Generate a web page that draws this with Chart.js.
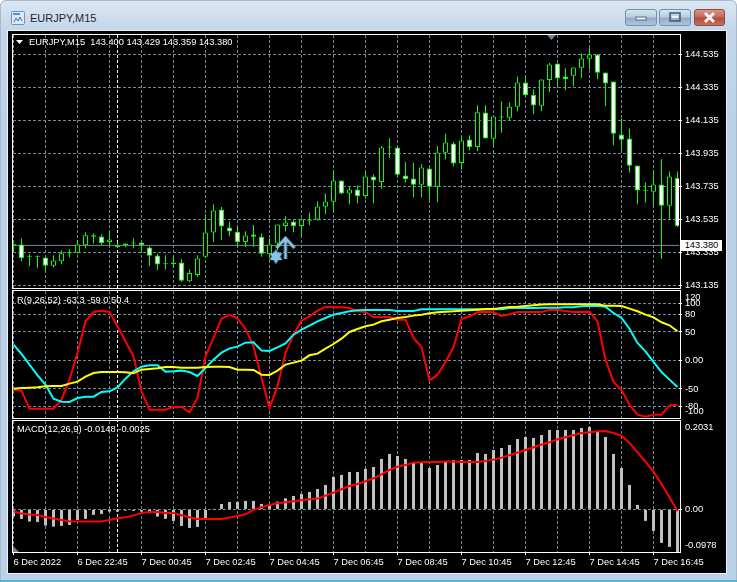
<!DOCTYPE html>
<html>
<head>
<meta charset="utf-8">
<title>EURJPY,M15</title>
<script src="https://cdn.jsdelivr.net/npm/chart.js@4"></script>
<style>
html, body { margin: 0; padding: 0; width: 737px; height: 582px; overflow: hidden; background: #fff; }
#win { position: absolute; left: 0; top: 0; width: 737px; height: 582px; background: linear-gradient(#dce7f3 0, #c4d6e9 30px, #b9d2ea 120px, #b9d2ea 100%); border-radius: 6px 6px 0 0; box-shadow: inset 0 0 0 1px #a9bacb; }
#client { position: absolute; left: 8px; top: 31px; width: 718px; height: 542px; background: #000; box-shadow: 0 0 0 1px #eef3f8; }
#bottomLine { position: absolute; left: 0; top: 580px; width: 737px; height: 2px; background: #4fb6d8; }
.frame { position: absolute; left: 12px; width: 667px; border: 1px solid #fff; box-sizing: content-box; }
canvas { position: absolute; left: 0; top: 0; }
.txt { position: absolute; color: #fff; font: 9.3px "Liberation Sans", sans-serif; white-space: pre; line-height: 12px; }
#title { left: 30px; top: 11px; color: #1c2733; font: 11px "Liberation Sans", sans-serif; line-height: 14px; }
#tag { left: 681px; top: 240px; width: 41px; height: 11px; line-height: 11px; background: #fff; color: #000; text-align: center; }
.btn { position: absolute; top: 9px; height: 17px; border: 1px solid #7b8ea3; border-radius: 3px; background: linear-gradient(#d7e4f1 0, #b8cde2 48%, #8fabc9 52%, #aec6de 100%); box-sizing: border-box; }
.btn svg { position: absolute; left: 0; top: 0; }
#shift { position: absolute; left: 547px; top: 35px; width: 9px; height: 5px; background: #708090; clip-path: polygon(0 0, 100% 0, 50% 100%); }
#corner { position: absolute; left: 13px; top: 546px; width: 6px; height: 6px; background: #708090; clip-path: polygon(0 0, 100% 100%, 0 100%); }
#menuMark { position: absolute; left: 16px; top: 40px; width: 7px; height: 4px; background: #fff; clip-path: polygon(0 0, 100% 0, 50% 100%); }
</style>
</head>
<body>
<div id="win">
    <svg style="position:absolute;left:11px;top:11px" width="14" height="14">
        <rect x="0.5" y="0.5" width="13" height="13" rx="1" fill="#dfe9f5" stroke="#6f93bf"/>
        <rect x="2" y="2" width="7" height="2" fill="#5f8fc9"/>
        <path d="M3 11 L5 7 L7 10 L9 6 L11 10" fill="none" stroke="#3c6ea8"/>
    </svg>
    <div class="txt" id="title">EURJPY,M15</div>
    <div class="btn" style="left:625px;width:32px">
        <svg width="30" height="15"><rect x="10" y="7" width="10" height="3" fill="#eef3f8" stroke="#5d6f82"/></svg>
    </div>
    <div class="btn" style="left:659px;width:32px">
        <svg width="30" height="15"><rect x="10" y="3" width="10" height="8" fill="none" stroke="#44566a" stroke-width="1.5"/><rect x="12" y="6" width="6" height="2" fill="#eef3f8"/></svg>
    </div>
    <div class="btn" style="left:694px;width:31px;border-color:#8c4a42;background:linear-gradient(#dc9488 0, #c5685c 48%, #b04a3e 52%, #c66e60 100%)">
        <svg width="29" height="15"><path d="M10 3 L19 12 M19 3 L10 12" stroke="#f4f4f4" stroke-width="3"/></svg>
    </div>
    <div id="client"></div>
    <div id="bottomLine"></div>
</div>

<div class="frame" style="top:34px;height:253px"></div>
<div class="frame" style="top:290px;height:127px"></div>
<div class="frame" style="top:420px;height:131px"></div>

<canvas id="priceChart" width="737" height="582"></canvas>
<canvas id="rChart" width="737" height="582"></canvas>
<canvas id="macdChart" width="737" height="582"></canvas>

<div id="menuMark"></div>
<div id="shift"></div>
<div id="corner"></div>
<div class="txt" style="left:29px;top:36px">EURJPY,M15  143.400 143.429 143.359 143.380</div>
<div class="txt" style="left:17px;top:294px">R(9,26,52) -63.3 -59.0 50.4</div>
<div class="txt" style="left:17px;top:423px">MACD(12,26,9) -0.0148 -0.0025</div>
<div class="txt" id="tag">143.380</div>

<script>
// candles, oldest first, one per 15 minutes
const opens = [
    143.373,143.383,143.309,143.309,143.304,143.254,143.282,143.329,143.333,143.379,
    143.430,143.432,143.399,143.377,143.389,143.395,143.395,143.365,143.317,143.264,
    143.274,143.274,143.161,143.199,143.309,143.456,143.595,143.486,143.460,143.399,
    143.444,143.430,143.325,143.389,143.496,143.523,143.496,143.527,143.535,143.612,
    143.642,143.771,143.692,143.717,143.678,143.795,143.763,143.971,143.971,143.802,
    143.783,143.745,143.844,143.733,143.939,143.995,143.878,144.020,143.975,144.183,
    144.024,144.153,144.151,144.218,144.365,144.290,144.224,144.381,144.480,144.402,
    144.406,144.454,144.509,144.535,144.426,144.371,144.050,144.026,143.862,143.709,
    143.703,143.747,143.618,143.787
];
const highs = [
    143.389,143.420,143.325,143.317,143.304,143.319,143.349,143.355,143.410,143.458,
    143.452,143.446,143.464,143.395,143.389,143.422,143.395,143.373,143.329,143.319,
    143.313,143.294,143.234,143.319,143.567,143.628,143.611,143.525,143.490,143.464,
    143.501,143.450,143.420,143.505,143.555,143.531,143.541,143.577,143.646,143.692,
    143.834,143.771,143.737,143.741,143.824,143.808,143.981,144.028,143.975,143.882,
    143.878,143.870,143.854,143.981,144.056,144.006,144.040,144.046,144.228,144.228,
    144.159,144.252,144.244,144.402,144.402,144.323,144.383,144.484,144.480,144.452,
    144.456,144.541,144.577,144.535,144.426,144.371,144.147,144.086,143.862,143.759,
    143.834,143.900,143.826,143.826
];
const lows = [
    143.339,143.282,143.252,143.240,143.222,143.244,143.264,143.306,143.329,143.361,
    143.389,143.381,143.379,143.363,143.369,143.361,143.333,143.252,143.228,143.234,
    143.244,143.157,143.155,143.187,143.300,143.397,143.410,143.434,143.369,143.369,
    143.369,143.309,143.299,143.349,143.464,143.458,143.440,143.500,143.527,143.567,
    143.585,143.688,143.628,143.634,143.660,143.634,143.721,143.909,143.791,143.761,
    143.670,143.670,143.652,143.640,143.898,143.858,143.840,143.955,143.949,144.026,
    143.985,144.060,144.137,144.191,144.284,144.173,144.191,144.307,144.349,144.319,
    144.343,144.393,144.446,144.385,144.222,143.985,143.951,143.820,143.628,143.638,
    143.618,143.296,143.535,143.490
];
const closes = [
    143.385,143.302,143.309,143.309,143.254,143.286,143.331,143.337,143.383,143.440,
    143.440,143.393,143.414,143.369,143.379,143.389,143.379,143.315,143.262,143.264,
    143.266,143.163,143.210,143.298,143.456,143.589,143.492,143.462,143.399,143.438,
    143.430,143.327,143.383,143.505,143.517,143.496,143.535,143.535,143.614,143.644,
    143.771,143.692,143.717,143.678,143.795,143.771,143.971,143.971,143.806,143.781,
    143.745,143.850,143.733,143.941,144.001,143.874,144.014,143.975,144.185,144.026,
    144.159,144.153,144.218,144.365,144.290,144.226,144.383,144.474,144.389,144.387,
    144.456,144.511,144.535,144.424,144.359,144.054,144.018,143.860,143.711,143.709,
    143.747,143.618,143.795,143.494
];

// R(9,26,52) pane
const rFast = [
    -51.8,-52.9,-84.5,-84.5,-84.5,-84.5,-68.7,-33.6,13.2,68.7,
    85.1,87.4,85.1,59.9,33.6,7.3,-54.1,-86.3,-86.3,-86.3,
    -81.6,-81.0,-91.0,-65.8,7.3,39.5,73.4,80.4,73.4,55.8,
    24.9,-30.7,-83.3,-45.3,13.2,45.3,69.9,77.5,87.4,93.9,
    93.3,93.3,92.1,86.3,85.1,76.3,76.3,76.3,71.6,71.6,
    39.5,23.7,-34.8,-24.9,-2.6,23.1,72.8,77.5,84.5,85.7,
    84.5,78.1,81.0,85.1,85.1,85.1,85.1,88.6,88.6,86.8,
    85.1,85.1,85.7,68.7,1.5,-37.7,-51.8,-77.5,-95.0,-98.5,
    -95.0,-95.0,-78.7,-77.5
];
const rMid = [
    27.8,11.4,-7.3,-26.0,-42.4,-67.0,-72.2,-72.8,-65.8,-63.5,
    -63.5,-55.3,-54.1,-47.1,-31.9,-19.0,-10.8,-8.5,-8.5,-19.6,
    -19.0,-17.8,-20.2,-27.2,-13.2,1.5,13.7,21.3,24.3,31.3,
    31.9,17.3,16.7,23.1,30.1,45.3,54.1,61.1,68.7,74.6,
    80.4,83.3,86.3,88.0,88.6,88.6,88.6,88.6,86.8,86.8,
    86.8,89.8,89.8,89.8,89.8,89.8,89.8,89.8,89.8,89.8,
    89.8,89.8,92.1,92.1,92.1,92.1,92.7,92.7,92.7,93.3,
    93.3,95.0,95.6,96.2,94.4,83.3,74.6,55.8,30.7,16.1,
    -2.6,-20.2,-33.6,-46.5
];
const rSlow = [
    -49.4,-48.2,-47.7,-47.1,-45.3,-44.7,-44.7,-40.6,-37.1,-28.4,
    -21.9,-20.2,-20.2,-20.2,-20.8,-22.5,-16.1,-14.9,-13.7,-11.4,
    -11.4,-12.6,-12.6,-12.6,-11.4,-10.8,-10.8,-11.4,-16.1,-16.1,
    -16.7,-24.9,-25.4,-17.8,-7.3,-3.8,-0.3,9.1,12.0,20.8,
    28.9,38.3,50.0,55.3,59.9,62.9,68.7,71.6,74.6,76.3,
    78.7,80.4,82.7,84.5,85.7,86.3,87.4,88.0,89.2,90.4,
    90.4,92.1,93.9,94.4,95.6,96.8,98.0,98.5,98.5,98.5,
    98.5,98.5,98.5,98.5,96.2,96.2,95.6,90.9,86.3,80.4,
    75.7,67.0,61.7,51.2
];

// MACD pane
const macdBars = [
    -0.0164,-0.0218,-0.0279,-0.0287,-0.0371,-0.0394,-0.0379,-0.0356,-0.0241,-0.0218,
    -0.0126,-0.0103,-0.0050,-0.0050,-0.0027,-0.0034,-0.0050,-0.0088,-0.0164,-0.0218,
    -0.0264,-0.0379,-0.0425,-0.0402,-0.0218,0.0003,0.0126,0.0172,0.0172,0.0195,
    0.0195,0.0126,0.0096,0.0180,0.0256,0.0310,0.0356,0.0402,0.0470,0.0562,
    0.0746,0.0792,0.0861,0.0861,0.0929,0.0975,0.1159,0.1274,0.1228,0.1159,
    0.1067,0.1067,0.0952,0.1021,0.1090,0.1136,0.1136,0.1136,0.1297,0.1274,
    0.1366,0.1411,0.1480,0.1618,0.1664,0.1641,0.1710,0.1825,0.1825,0.1825,
    0.1825,0.1870,0.1893,0.1779,0.1664,0.1274,0.0952,0.0562,0.0103,-0.0264,
    -0.0493,-0.0769,-0.0861,-0.0978
];
const macdSignal = [
    -0.0042,-0.0096,-0.0119,-0.0126,-0.0172,-0.0210,-0.0241,-0.0272,-0.0279,-0.0279,
    -0.0279,-0.0279,-0.0241,-0.0203,-0.0180,-0.0142,-0.0080,-0.0057,-0.0057,-0.0080,
    -0.0080,-0.0134,-0.0180,-0.0218,-0.0218,-0.0218,-0.0218,-0.0187,-0.0149,-0.0111,
    -0.0011,0.0050,0.0103,0.0142,0.0164,0.0187,0.0210,0.0233,0.0249,0.0317,
    0.0386,0.0463,0.0539,0.0585,0.0646,0.0715,0.0807,0.0907,0.0983,0.1021,
    0.1075,0.1082,0.1090,0.1090,0.1098,0.1098,0.1090,0.1090,0.1090,0.1113,
    0.1144,0.1190,0.1243,0.1304,0.1366,0.1427,0.1488,0.1541,0.1610,0.1656,
    0.1702,0.1756,0.1771,0.1794,0.1802,0.1756,0.1687,0.1534,0.1312,0.1098,
    0.0868,0.0585,0.0279,-0.0042
];

// axis ticks and labels
const barTicks = [0,4,8,12,16,20,24,28,32,36,40,44,48,52,56,60,64,68,72,76,80];
const timeLabels = ['6 Dec 2022','6 Dec 22:45','7 Dec 00:45','7 Dec 02:45','7 Dec 04:45','7 Dec 06:45',
    '7 Dec 08:45','7 Dec 10:45','7 Dec 12:45','7 Dec 14:45','7 Dec 16:45'];
const priceTicks = [144.535,144.335,144.135,143.935,143.735,143.535,143.335,143.135];
// the terminal pulls its top and bottom labels inside the pane, so those sit off their true value
const rTicks = [111.4,100,80,50,0,-50,-80,-89.8];
const rTickLabels = ['120','100','80','50','0.00','-50','-80','-100'];
const macdTicks = [0.1882,0,-0.0831];
const macdTickLabels = ['0.2031','0.00','-0.0978'];

const lastPrice = 143.378;
const separatorBar = 13;
const arrowPoint = { x: 34, y: 143.365 };
const starPoint = { x: 32.8, y: 143.31 };

const GRID = '#778899';
const FONT = { family: '"Liberation Sans", sans-serif', size: 9.3 };
const X_MIN = -0.0625;
const X_MAX = 83.1875;

const bars = opens.map((v, i) => i);

function xyData(values) {
    return values.map((v, i) => ({ x: i, y: v }));
}

function separatorDataset(yMin, yMax) {
    return {
        type: 'line',
        data: [{ x: separatorBar, y: yMin }, { x: separatorBar, y: yMax }],
        borderColor: '#fff',
        borderWidth: 1,
        borderDash: [3, 2],
        pointRadius: 0,
        order: 6
    };
}

function lineDataset(values, color, order) {
    return {
        type: 'line',
        data: xyData(values),
        borderColor: color,
        borderWidth: 2,
        tension: 0,
        pointRadius: 0,
        order: order
    };
}

// Shared options for one pane; every canvas covers the whole window
function paneOptions(top, bottom, yMin, yMax, tickValues, tickLabel, noGrid, showTime) {
    const xHeight = showTime ? 30 : 0;
    return {
        responsive: false,
        animation: false,
        events: [],
        layout: { padding: { left: 13, top: top, right: 0, bottom: 582 - bottom - xHeight } },
        plugins: { legend: { display: false }, tooltip: { enabled: false } },
        scales: {
            x: {
                type: 'linear',
                min: X_MIN,
                max: X_MAX,
                offset: false,
                afterBuildTicks: s => { s.ticks = barTicks.map(v => ({ value: v })); },
                afterFit: s => { s.height = xHeight; s.paddingLeft = 0; s.paddingRight = 0; },
                border: { display: false, dash: [3, 2] },
                grid: {
                    offset: false,
                    color: GRID,
                    drawTicks: showTime,
                    tickLength: 3,
                    tickColor: c => (c.tick && c.tick.value % 8 === 0 ? '#fff' : 'transparent')
                },
                ticks: {
                    display: showTime,
                    autoSkip: false,
                    maxRotation: 0,
                    align: 'start',
                    padding: 2,
                    color: '#fff',
                    font: FONT,
                    callback: v => (v % 8 === 0 ? timeLabels[v / 8] : '')
                }
            },
            y: {
                position: 'right',
                min: yMin,
                max: yMax,
                beginAtZero: false,
                afterBuildTicks: s => { s.ticks = tickValues.map(v => ({ value: v })); },
                afterFit: s => { s.width = 58; s.paddingTop = 0; s.paddingBottom = 0; },
                border: { display: false, dash: [3, 2] },
                grid: {
                    color: c => (c.tick && noGrid.includes(c.tick.value) ? 'transparent' : GRID),
                    tickLength: 3,
                    tickColor: c => (c.tick && noGrid.includes(c.tick.value) ? 'transparent' : '#fff')
                },
                ticks: {
                    autoSkip: false,
                    padding: 3,
                    color: '#fff',
                    font: FONT,
                    callback: tickLabel
                }
            }
        }
    };
}

function makeArrow() {
    const c = document.createElement('canvas');
    c.width = 22;
    c.height = 23;
    const ctx = c.getContext('2d');
    ctx.strokeStyle = '#87c4ea';
    ctx.lineWidth = 3;
    ctx.beginPath();
    ctx.moveTo(2, 12);
    ctx.lineTo(11, 2);
    ctx.lineTo(20, 12);
    ctx.moveTo(11, 3);
    ctx.lineTo(11, 23);
    ctx.stroke();
    return c;
}

function makeStar() {
    const c = document.createElement('canvas');
    c.width = 15;
    c.height = 15;
    const ctx = c.getContext('2d');
    ctx.fillStyle = '#87c4ea';
    ctx.beginPath();
    ctx.moveTo(7.5, 0);
    ctx.lineTo(14, 11);
    ctx.lineTo(1, 11);
    ctx.closePath();
    ctx.moveTo(7.5, 15);
    ctx.lineTo(1, 4);
    ctx.lineTo(14, 4);
    ctx.closePath();
    ctx.fill();
    return c;
}

// Price pane
const priceMin = 143.1198;
const priceMax = 144.6532;
new Chart(document.getElementById('priceChart'), {
    type: 'bar',
    data: {
        datasets: [
            separatorDataset(priceMin, priceMax),
            {
                type: 'line',
                data: [{ x: X_MIN, y: lastPrice }, { x: X_MAX, y: lastPrice }],
                borderColor: GRID,
                borderWidth: 1,
                pointRadius: 0,
                order: 5
            },
            {
                data: bars.map(i => ({ x: i, y: [lows[i], highs[i]] })),
                backgroundColor: '#00ff00',
                barThickness: 1,
                grouped: false,
                inflateAmount: 0,
                order: 3
            },
            {
                data: bars.map(i => ({ x: i, y: [opens[i], closes[i]] })),
                backgroundColor: bars.map(i => (closes[i] < opens[i] ? '#fff' : '#000')),
                borderColor: '#00ff00',
                borderWidth: 1,
                borderSkipped: false,
                barThickness: 5,
                minBarLength: 1,
                grouped: false,
                inflateAmount: 0,
                order: 2
            },
            { type: 'line', data: [arrowPoint], showLine: false, pointStyle: makeArrow(), pointRadius: 1, order: 0 },
            { type: 'line', data: [starPoint], showLine: false, pointStyle: makeStar(), pointRadius: 1, order: 0 }
        ]
    },
    options: paneOptions(35, 288, priceMin, priceMax, priceTicks, v => v.toFixed(3), [], false)
});

// R pane
const rMin = -100.9;
const rMax = 121.9;
new Chart(document.getElementById('rChart'), {
    type: 'line',
    data: {
        datasets: [
            separatorDataset(rMin, rMax),
            lineDataset(rFast, '#ff0000', 3),
            lineDataset(rMid, '#00ffff', 2),
            lineDataset(rSlow, '#ffff00', 1)
        ]
    },
    options: paneOptions(291, 418, rMin, rMax, rTicks, v => rTickLabels[rTicks.indexOf(v)], [111.4, -89.8], false)
});

// MACD pane
const macdMin = -0.0978;
const macdMax = 0.2031;
new Chart(document.getElementById('macdChart'), {
    type: 'bar',
    data: {
        datasets: [
            separatorDataset(macdMin, macdMax),
            {
                data: xyData(macdBars),
                backgroundColor: '#c0c0c0',
                barThickness: 3,
                grouped: false,
                inflateAmount: 0,
                order: 2
            },
            lineDataset(macdSignal, '#ff0000', 1)
        ]
    },
    options: paneOptions(421, 552, macdMin, macdMax, macdTicks, v => macdTickLabels[macdTicks.indexOf(v)], [0.1882, -0.0831], true)
});
</script>
</body>
</html>
